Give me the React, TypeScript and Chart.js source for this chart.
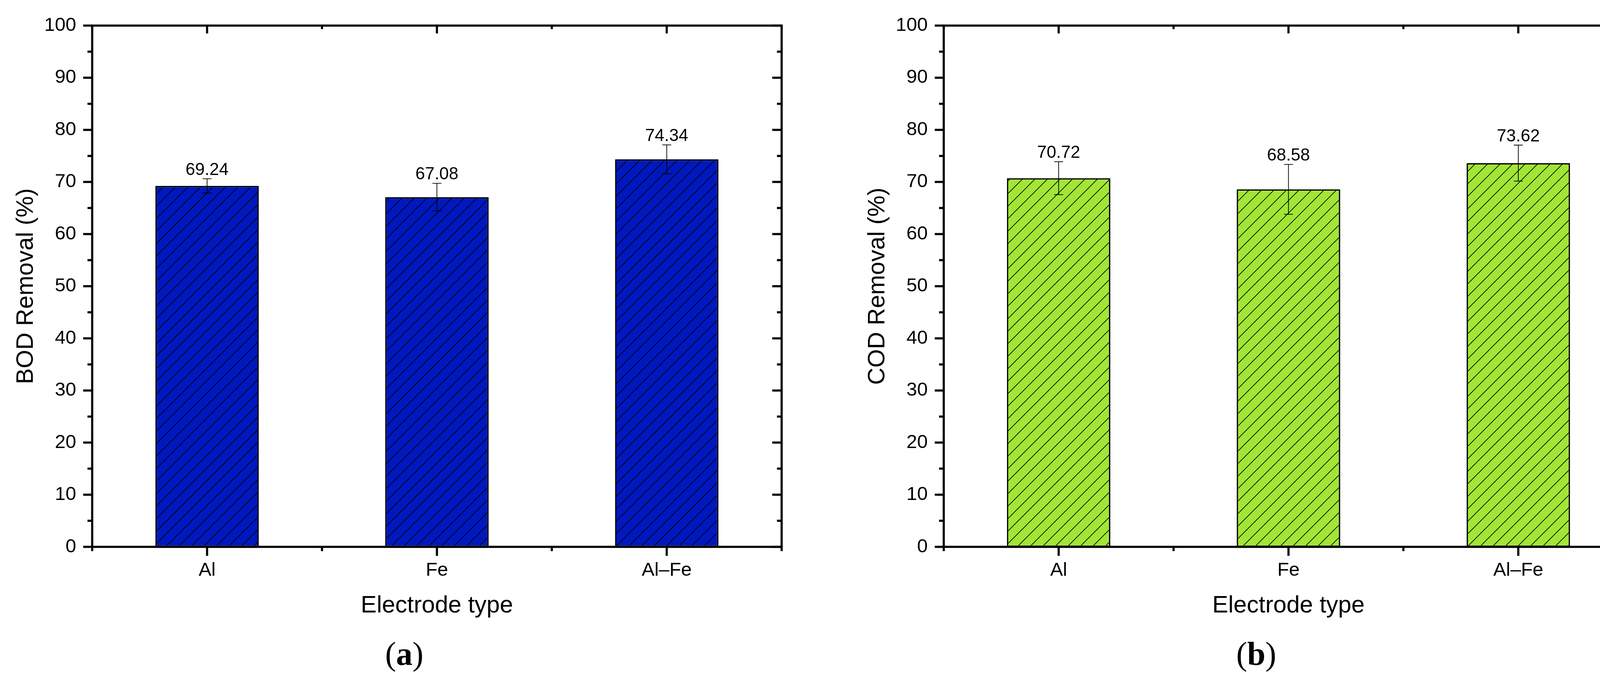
import React, { useEffect, useRef } from 'react';
import { Chart, registerables } from 'chart.js';

Chart.register(...registerables);

// ---------- data ----------
const categories = ['Al', 'Fe', 'Al–Fe'];
const bodValues = [69.24, 67.08, 74.34];
const bodErrors = [1.37, 2.65, 2.78];
const codValues = [70.72, 68.58, 73.62];
const codErrors = [3.15, 4.79, 3.45];
const yMajorTicks = [0, 10, 20, 30, 40, 50, 60, 70, 80, 90, 100];
const yMinorTicks = [5, 15, 25, 35, 45, 55, 65, 75, 85, 95];
const xBoundaries = [-0.5, 0.5, 1.5, 2.5];
const valueLabels = {
  bod: ['69.24', '67.08', '74.34'],
  cod: ['70.72', '68.58', '73.62'],
};

const H = 1746;
const SANS = 'Liberation Sans';

function makeHatch(color: string): CanvasPattern | string {
  const s = 32;
  const c = document.createElement('canvas');
  c.width = s;
  c.height = s;
  const g = c.getContext('2d');
  if (!g) return color;
  g.fillStyle = color;
  g.fillRect(0, 0, s, s);
  g.strokeStyle = '#000';
  g.lineWidth = 1.6;
  g.beginPath();
  g.moveTo(-2, s + 2);
  g.lineTo(s + 2, -2);
  g.moveTo(-3, 3);
  g.lineTo(3, -3);
  g.moveTo(s - 3, s + 3);
  g.lineTo(s + 3, s - 3);
  g.stroke();
  return g.createPattern(c, 'repeat') || color;
}

function decorPlugin(errors: number[], labels: string[]) {
  return {
    id: 'decor',
    afterDatasetsDraw(chart: any) {
      const ctx = chart.ctx as CanvasRenderingContext2D;
      const ys = chart.scales.y;
      const meta = chart.getDatasetMeta(0);
      const vals = chart.data.datasets[0].data as number[];
      ctx.save();
      meta.data.forEach((bar: any, i: number) => {
        const v = vals[i];
        const e = errors[i];
        const yt = ys.getPixelForValue(v + e);
        const yb = ys.getPixelForValue(v - e);
        const x = bar.x;
        ctx.strokeStyle = '#000';
        ctx.lineWidth = 1.8;
        ctx.beginPath();
        ctx.moveTo(x, yt);
        ctx.lineTo(x, yb);
        ctx.moveTo(x - 11.5, yt);
        ctx.lineTo(x + 11.5, yt);
        ctx.moveTo(x - 11.5, yb);
        ctx.lineTo(x + 11.5, yb);
        ctx.stroke();
        ctx.fillStyle = '#000';
        ctx.font = `44px "${SANS}"`;
        ctx.textAlign = 'center';
        ctx.textBaseline = 'alphabetic';
        ctx.fillText(labels[i], x, yt - 10);
      });
      ctx.restore();
    },
    afterDraw(chart: any) {
      const ctx = chart.ctx as CanvasRenderingContext2D;
      const { left, right, top, bottom } = chart.chartArea;
      const xs = chart.scales.x;
      const ys = chart.scales.y;
      ctx.save();
      ctx.strokeStyle = '#000';
      ctx.lineWidth = 5.5;
      ctx.lineJoin = 'miter';
      ctx.lineCap = 'butt';
      ctx.strokeRect(left, top, right - left, bottom - top);
      ctx.beginPath();
      yMajorTicks.forEach((v) => {
        const p = ys.getPixelForValue(v);
        ctx.moveTo(left - 23, p);
        ctx.lineTo(left, p);
        ctx.moveTo(right - 24, p);
        ctx.lineTo(right, p);
      });
      yMinorTicks.forEach((v) => {
        const p = ys.getPixelForValue(v);
        ctx.moveTo(left - 12, p);
        ctx.lineTo(left, p);
        ctx.moveTo(right - 12, p);
        ctx.lineTo(right, p);
      });
      categories.forEach((_c, i) => {
        const p = xs.getPixelForValue(i);
        ctx.moveTo(p, bottom);
        ctx.lineTo(p, bottom + 23);
        ctx.moveTo(p, top);
        ctx.lineTo(p, top + 20);
      });
      xBoundaries.forEach((v) => {
        const p = xs.getPixelForValue(v);
        ctx.moveTo(p, bottom);
        ctx.lineTo(p, bottom + 11);
        ctx.moveTo(p, top);
        ctx.lineTo(p, top + 9);
      });
      ctx.stroke();
      ctx.restore();
    },
  };
}

type PanelProps = {
  left: number;
  width: number;
  padRight: number;
  values: number[];
  errors: number[];
  labels: string[];
  color: string;
  yTitle: string;
};

function Panel({ left, width, padRight, values, errors, labels, color, yTitle }: PanelProps) {
  const ref = useRef<HTMLCanvasElement>(null);
  useEffect(() => {
    if (!ref.current) return;
    const chart = new Chart(ref.current, {
      type: 'bar',
      data: {
        labels: categories,
        datasets: [
          {
            data: values,
            backgroundColor: makeHatch(color) as any,
            borderColor: '#000',
            borderWidth: 3.5,
            borderSkipped: false,
            categoryPercentage: 1,
            barPercentage: 0.45,
          },
        ],
      },
      options: {
        animation: false,
        responsive: false,
        devicePixelRatio: 1,
        layout: { padding: { left: 0, top: 50, right: padRight, bottom: 146 } },
        plugins: { legend: { display: false }, tooltip: { enabled: false }, title: { display: false } },
        scales: {
          x: {
            type: 'category',
            offset: true,
            grid: { display: false, drawTicks: false },
            border: { display: false },
            ticks: {
              color: '#000',
              font: { family: SANS, size: 49, lineHeight: 1 },
              padding: 36,
              maxRotation: 0,
              autoSkip: false,
            },
            title: {
              display: true,
              text: 'Electrode type',
              color: '#000',
              font: { family: SANS, size: 61, lineHeight: 1 },
              padding: { top: 0, bottom: 18 },
            },
            afterFit: (scale: any) => {
              scale.height = 200;
            },
          },
          y: {
            min: 0,
            max: 100,
            grid: { display: false, drawTicks: false },
            border: { display: false },
            ticks: {
              stepSize: 10,
              color: '#000',
              font: { family: SANS, size: 49, lineHeight: 1 },
              padding: 41,
            },
            title: {
              display: true,
              text: yTitle,
              color: '#000',
              font: { family: SANS, size: 61, lineHeight: 1 },
              padding: { top: 36.5, bottom: 0 },
            },
            afterFit: (scale: any) => {
              scale.width = 236;
            },
          },
        },
      },
      plugins: [decorPlugin(errors, labels)],
    });
    return () => chart.destroy();
  }, []);
  return (
    <canvas
      ref={ref}
      width={width}
      height={H}
      style={{ position: 'absolute', left, top: 0, width, height: H, display: 'block' }}
    />
  );
}

const captionStyle: React.CSSProperties = {
  position: 'absolute',
  top: 1632,
  width: 400,
  textAlign: 'center',
  fontFamily: '"Liberation Serif", serif',
  fontSize: 84,
  lineHeight: 1,
  color: '#000',
  whiteSpace: 'nowrap',
};

export default function App() {
  return (
    <div style={{ position: 'absolute', left: 0, top: 0, width: 4217, height: H, background: '#fff', overflow: 'hidden' }}>
      <Panel
        left={0}
        width={2108}
        padRight={107}
        values={bodValues}
        errors={bodErrors}
        labels={valueLabels.bod}
        color="#0018BE"
        yTitle="BOD Removal (%)"
      />
      <Panel
        left={2180}
        width={2037}
        padRight={36}
        values={codValues}
        errors={codErrors}
        labels={valueLabels.cod}
        color="#A2E635"
        yTitle="COD Removal (%)"
      />
      <div style={{ ...captionStyle, left: 1035 - 200 }}>
        (<b>a</b>)
      </div>
      <div style={{ ...captionStyle, left: 3216 - 200 }}>
        (<b>b</b>)
      </div>
    </div>
  );
}
